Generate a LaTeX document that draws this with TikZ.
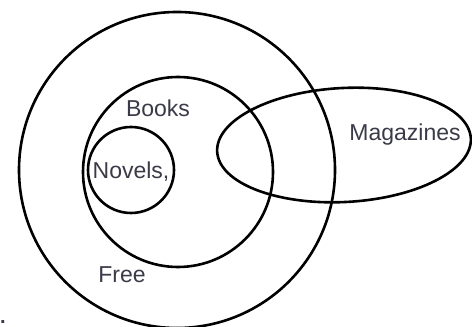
\documentclass[tikz,border=0pt]{standalone}
\usepackage{fontspec}
\setmainfont{Liberation Sans}
\usetikzlibrary{positioning, shapes.geometric}
\definecolor{inkgray}{RGB}{58,58,72}

\begin{document}
\begin{tikzpicture}[x=0.5pt, y=0.5pt,
    set/.style={draw, line width=1.3pt, inner sep=0pt},
    lbl/.style={text=inkgray, font=\fontsize{11.5}{13}\selectfont, inner sep=0pt}]
    \useasboundingbox (0,0) rectangle (472,327);

    \node[set, circle, minimum size=158pt] (free) at (177,157) {};
    \node[set, circle, minimum size=95pt] (books) at (178,155) {};
    \node[set, circle, minimum size=43pt] (novels) at (131,157) {};
    \node[set, ellipse, minimum width=127pt, minimum height=57pt, rotate=3] (mags) at (344,182) {};

    \node[lbl] (tbooks) at (158,219) {Books};
    \node[lbl] (tnovels) at (131,155) {Novels,};
    \node[lbl] (tmags) at (405,192) {Magazines};
    \node[lbl] (tfree) at (122,52) {Free};
    \node[lbl, font=\bfseries] (dot) at (3,5) {.};
  \end{tikzpicture}
\end{document}
